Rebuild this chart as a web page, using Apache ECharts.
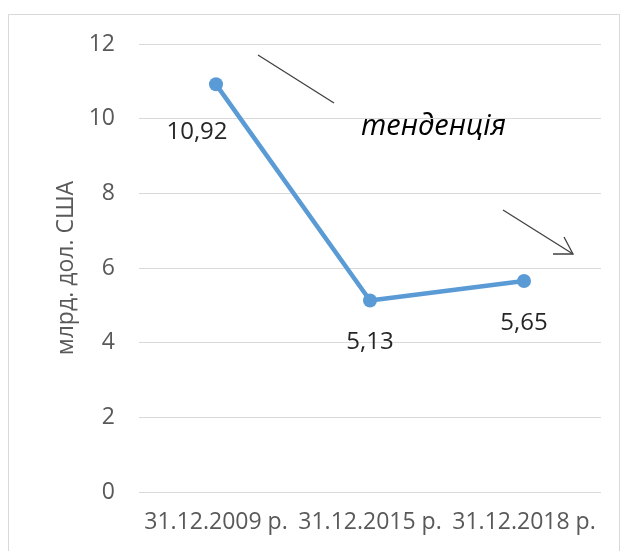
<!DOCTYPE html>
<html>
<head>
<meta charset="utf-8">
<script src="https://cdn.jsdelivr.net/npm/echarts@6/dist/echarts.min.js"></script>
<style>
  html, body { margin: 0; padding: 0; background: #fff; }
  #main { width: 627px; height: 551px; }
</style>
</head>
<body>
<div id="main"></div>
<script>
// chart data
const categories = ['31.12.2009 р.', '31.12.2015 р.', '31.12.2018 р.'];
const values = [10.92, 5.13, 5.65];
const yTicks = [0, 2, 4, 6, 8, 10, 12];

const chart = echarts.init(document.getElementById('main'));
const font = '"Open Sans", sans-serif';

const option = {
  animation: false,
  grid: { left: 139, right: 26, top: 44, bottom: 59 },
  xAxis: {
    type: 'category',
    data: categories,
    boundaryGap: true,
    axisLine: { show: false },
    axisTick: { show: false },
    axisLabel: { color: '#595959', fontSize: 23, fontFamily: font, margin: 19, interval: 0 }
  },
  yAxis: {
    type: 'value',
    min: yTicks[0],
    max: yTicks[yTicks.length - 1],
    interval: 2,
    name: 'млрд. дол. США',
    nameLocation: 'middle',
    nameGap: 53,
    nameTextStyle: { color: '#595959', fontSize: 23, fontFamily: font },
    axisLabel: { color: '#595959', fontSize: 23, fontFamily: font, margin: 24 },
    splitLine: { lineStyle: { color: '#d9d9d9', width: 1 } },
    axisLine: { show: false },
    axisTick: { show: false }
  },
  series: [{
    type: 'line',
    data: values.map((v, i) => ({
      value: v,
      label: i === 0 ? { offset: [-19, 6] } : {}
    })),
    symbol: 'circle',
    symbolSize: 14,
    lineStyle: { color: '#5b9bd5', width: 4.5 },
    itemStyle: { color: '#5b9bd5' },
    label: {
      show: true,
      position: 'bottom',
      distance: 23,
      color: '#262626',
      fontSize: 24,
      fontFamily: font,
      formatter: p => String(p.value).replace('.', ',')
    }
  }],
  graphic: [
    { type: 'rect', shape: { x: 8.5, y: 14.5, width: 611, height: 540 },
      style: { fill: 'none', stroke: '#d9d9d9', lineWidth: 1 }, silent: true },
    { type: 'line', shape: { x1: 258, y1: 55, x2: 334, y2: 103 },
      style: { stroke: '#404040', lineWidth: 1.3 } },
    { type: 'text', x: 361, y: 127,
      style: { text: 'тенденція', fontSize: 29, fontStyle: 'italic', fontFamily: font,
               fill: '#000', verticalAlign: 'middle' } },
    { type: 'line', shape: { x1: 503, y1: 210, x2: 573, y2: 254 },
      style: { stroke: '#404040', lineWidth: 1.3 } },
    { type: 'polyline', shape: { points: [[564, 237], [573, 254], [553, 254]] },
      style: { stroke: '#404040', lineWidth: 1.3, fill: 'none' } }
  ]
};

chart.setOption(option);
</script>
</body>
</html>
